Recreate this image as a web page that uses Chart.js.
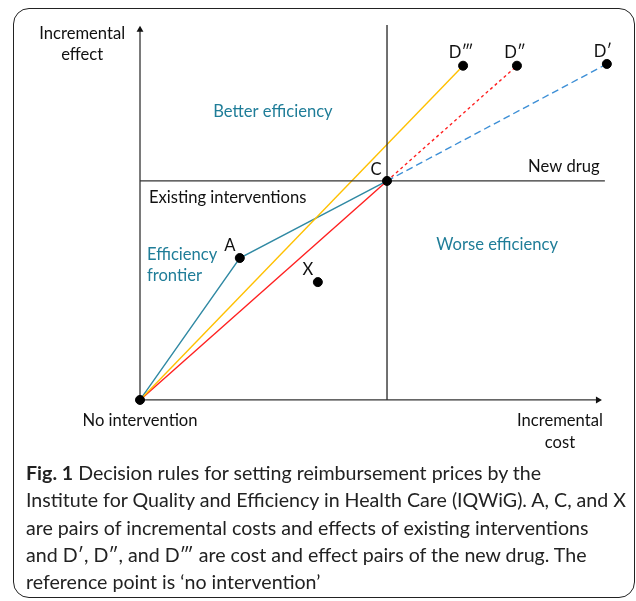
<!DOCTYPE html>
<html>
<head>
<meta charset="utf-8">
<script src="https://cdn.jsdelivr.net/npm/chart.js@4"></script>
<style>
  body { margin: 0; background: #fff; }
  #wrap { position: relative; width: 636px; height: 601px; }
  #frame {
    position: absolute; left: 13px; top: 8px; width: 620px; height: 588px;
    border: 1.5px solid #222; border-radius: 16px; pointer-events: none;
  }
  #caption {
    position: absolute; left: 26px; top: 459px;
    font-family: Lato, sans-serif; font-size: 19.6px; line-height: 27.3px; color: #222;
    white-space: nowrap;
  }
  #caption b { font-weight: bold; }
</style>
</head>
<body>
<div id="wrap">
  <canvas id="chart" width="636" height="601"></canvas>
  <div id="frame"></div>
  <div id="caption">
    <div><b>Fig. 1</b> Decision rules for setting reimbursement prices by the</div>
    <div>Institute for Quality and Efficiency in Health Care (IQWiG). A, C, and X</div>
    <div>are pairs of incremental costs and effects of existing interventions</div>
    <div>and D′, D″, and D‴ are cost and effect pairs of the new drug. The</div>
    <div>reference point is ‘no intervention’</div>
  </div>
</div>
<script>
// points (incremental cost, incremental effect), arbitrary units, C = (50, 50)
const pointNames = ['O', 'A', 'C', 'X', "D'''", "D''", "D'"];
const costs   = [0, 20.2, 50, 36.0, 65.4, 76.3, 94.5];
const effects = [0, 32.4, 50, 26.9, 76.3, 76.3, 76.7];

const frontier = ['O', 'A', 'C'];
const axisEndCost = 92.7;
const axisEndEffect = 84.5;

function pt(name) {
    const i = pointNames.indexOf(name);
    return { x: costs[i], y: effects[i] };
}

const teal = '#3089a3';
const tealText = '#1f7d98';

const labels = [
    { text: 'Better efficiency', x: 26.9, y: 65.8, color: tealText },
    { text: 'Worse efficiency', x: 72.3, y: 35.4, color: tealText },
    { text: 'Existing interventions', x: 1.8, y: 46.1, align: 'left' },
    { text: 'New drug', x: 85.8, y: 53.2 },
    { text: 'Efficiency', x: 1.4, y: 33.1, align: 'left', color: tealText },
    { text: 'frontier', x: 1.4, y: 28.3, align: 'left', color: tealText },
    { text: 'Incremental', x: -11.7, y: 83.6 },
    { text: 'effect', x: -11.7, y: 78.8 },
    { text: 'No intervention', x: 0, y: -4.8 },
    { text: 'Incremental', x: 85.0, y: -4.8 },
    { text: 'cost', x: 85.0, y: -9.8 },
    { text: 'A', at: 'A', dx: -10, dy: -12 },
    { text: 'C', at: 'C', dx: -11, dy: -11 },
    { text: 'X', at: 'X', dx: -10, dy: -12 },
    { text: 'D‴', at: "D'''", dx: -2, dy: -13 },
    { text: 'D″', at: "D''", dx: -2, dy: -13 },
    { text: 'D′', at: "D'", dx: -4, dy: -12 }
];

const textPlugin = {
    id: 'textLabels',
    afterDatasetsDraw(chart) {
        const ctx = chart.ctx;
        const xs = chart.scales.x, ys = chart.scales.y;
        ctx.save();
        ctx.font = '16.6px Lato, sans-serif';
        ctx.textBaseline = 'middle';
        labels.forEach(l => {
            let px, py;
            if (l.at) {
                const p = pt(l.at);
                px = xs.getPixelForValue(p.x) + l.dx;
                py = ys.getPixelForValue(p.y) + l.dy;
            } else {
                px = xs.getPixelForValue(l.x);
                py = ys.getPixelForValue(l.y);
            }
            ctx.textAlign = l.align || 'center';
            ctx.fillStyle = l.color || '#111';
            ctx.fillText(l.text, px, py);
        });
        ctx.restore();
    }
};

function arrowLine(data, rotation) {
    return {
        type: 'line',
        data: data,
        borderColor: '#333',
        borderWidth: 1.3,
        pointStyle: 'triangle',
        pointRotation: rotation,
        pointRadius: ctx => ctx.dataIndex === data.length - 1 ? 4 : 0,
        pointBackgroundColor: '#111',
        pointBorderWidth: 0,
        order: 5
    };
}

function plainLine(data, color, dash) {
    return {
        type: 'line',
        data: data,
        borderColor: color,
        borderWidth: 1.4,
        borderDash: dash || [],
        pointRadius: 0,
        order: 3
    };
}

function initializeChart() {
    const canvas = document.getElementById('chart');
    const c = pt('C');

    const datasets = [
        {
            type: 'scatter',
            data: pointNames.map(pt),
            pointRadius: 4.5,
            pointBackgroundColor: '#000',
            pointBorderColor: '#000',
            order: 0
        },
        arrowLine([{ x: 0, y: 0 }, { x: axisEndCost, y: 0 }], 90),
        arrowLine([{ x: 0, y: 0 }, { x: 0, y: axisEndEffect }], 0),
        plainLine([{ x: c.x, y: 0 }, { x: c.x, y: 85.6 }], '#333'),
        plainLine([{ x: 0, y: c.y }, { x: 94.1, y: c.y }], '#333'),
        plainLine([pt('O'), pt("D'''")], '#ffc000'),
        plainLine([pt('O'), pt('C')], '#ff2020'),
        plainLine([pt('C'), pt("D''")], '#ff2020', [3, 3]),
        plainLine([pt('C'), pt("D'")], '#3d8fd6', [7, 4]),
        plainLine(frontier.map(pt), teal)
    ];

    new Chart(canvas, {
        data: { datasets: datasets },
        options: {
            responsive: false,
            animation: false,
            layout: { padding: 0, autoPadding: false },
            plugins: { legend: { display: false }, tooltip: { enabled: false } },
            scales: {
                x: { type: 'linear', min: -28.34, max: 100.4, display: false },
                y: { type: 'linear', min: -45.9, max: 91.3, display: false }
            }
        },
        plugins: [textPlugin]
    });
}

window.addEventListener('load', initializeChart);
</script>
</body>
</html>
